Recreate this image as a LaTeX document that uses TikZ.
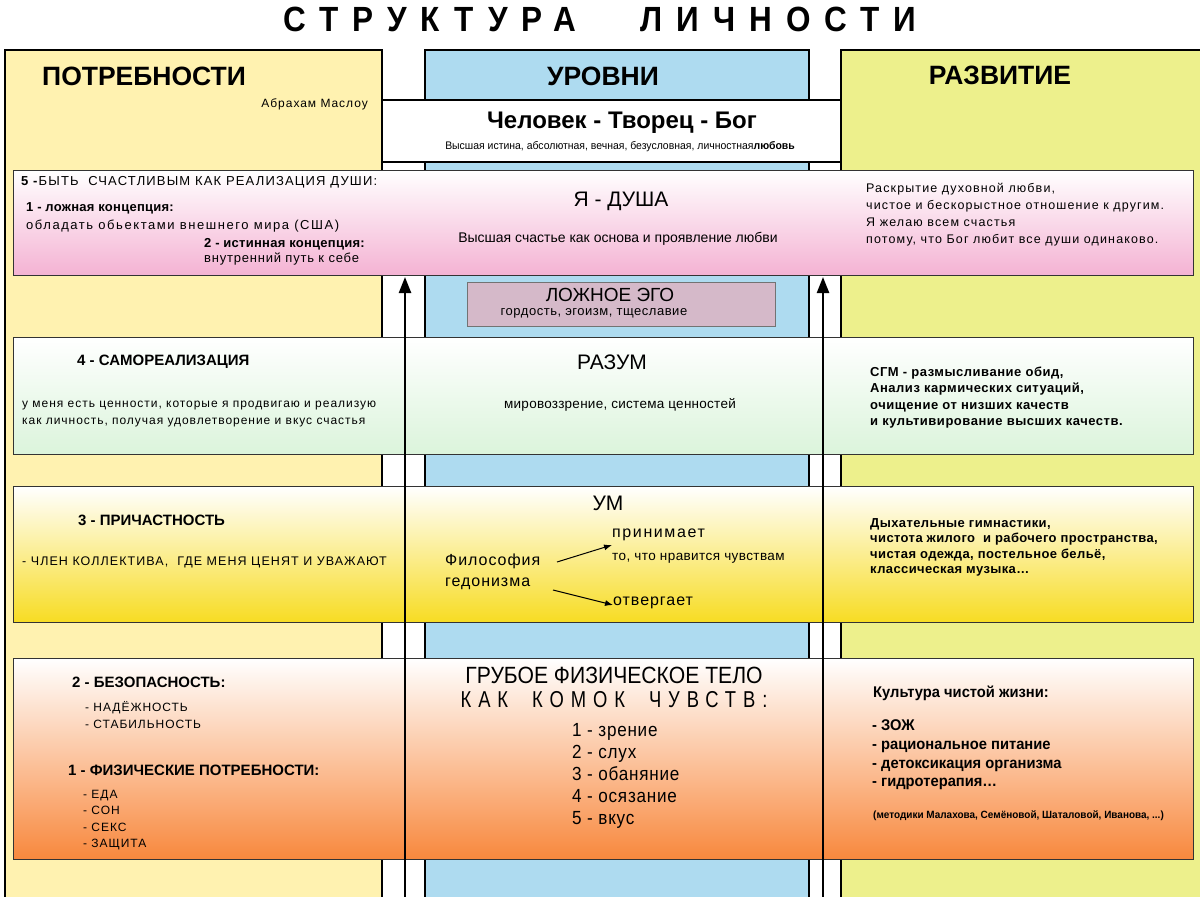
\documentclass[tikz,border=0pt]{standalone}
\usepackage{fontspec}
\setmainfont{Liberation Sans}
\newfontfamily\narrowfont[FakeStretch=0.9]{Liberation Sans}
\newfontfamily\narrowspaced[FakeStretch=0.8,LetterSpace=30]{Liberation Sans}
\newfontfamily\semifont[FakeStretch=0.95]{Liberation Sans}
\newfontfamily\titlefont[FakeStretch=0.9,LetterSpace=40]{Liberation Sans}
\usetikzlibrary{arrows.meta,positioning}
\definecolor{needyellow}{HTML}{FFF2B0}
\definecolor{levelblue}{HTML}{AEDBF0}
\definecolor{growgreen}{HTML}{EDF08C}
\definecolor{soulpink}{HTML}{F4B2D3}
\definecolor{mindgreen}{HTML}{DBF4DB}
\definecolor{senseyellow}{HTML}{F7DC22}
\definecolor{bodyorange}{HTML}{F8883D}
\definecolor{egomauve}{HTML}{D5B9C9}
\newcommand{\fsize}[2]{\fontsize{#1}{#2}\selectfont}
\newcommand{\spaced}[1]{\addfontfeature{LetterSpace=#1}}

\begin{document}
\begin{tikzpicture}[x=1pt,y=-1pt,
    column/.style={draw=black,line width=2.2pt,anchor=north west,inner sep=0pt},
    band/.style={draw=black!80,line width=1.1pt,anchor=north west,inner sep=0pt},
    head/.style={inner sep=0pt,font=\bfseries\fsize{26.5}{30}},
    txt/.style={anchor=west,inner sep=0pt,align=left,font=\spaced{8}\fsize{12}{17}},
    bold/.style={txt,font=\bfseries\fsize{15}{17}},
    level/.style={inner sep=0pt,font=\fsize{21}{24}},
    note/.style={inner sep=0pt,font=\spaced{2}\fsize{13.5}{16}},
    growtext/.style={txt,font=\bfseries\spaced{4}\fsize{13}{16.3}},
    uparrow/.style={line width=2.4pt,-{Triangle[length=16pt,width=12pt]}},
    hedarrow/.style={line width=1pt,-{Latex[length=8pt,width=6pt]}}]
  \useasboundingbox (0,0) rectangle (1200,897);
  \clip (0,0) rectangle (1200,897);
  \fill[white] (0,0) rectangle (1200,897);

  % three columns and the top box
  \node[column,fill=needyellow,minimum width=377,minimum height=880] (needs) at (4,49) {};
  \node[column,fill=levelblue,minimum width=384,minimum height=880] (levels) at (424,49) {};
  \node[column,fill=growgreen,minimum width=380,minimum height=880] (growth) at (840,49) {};
  \node[column,fill=white,minimum width=459,minimum height=62] (creator) at (381,99) {};

  % bands
  \node[band,top color=white,bottom color=soulpink,minimum width=1180,minimum height=105] (soul) at (13,170) {};
  \node[band,fill=egomauve,draw=black!55,line width=0.8pt,minimum width=308,minimum height=44] (ego) at (467,282) {};
  \foreach \row/\top/\high/\tint in {mind/337/117/mindgreen,sense/486/136/senseyellow,body/658/201/bodyorange}{
    \node[band,top color=white,bottom color=\tint,minimum width=392,minimum height=\high] (\row L) at (13,\top) {};
    \node[band,top color=white,bottom color=\tint,minimum width=418,minimum height=\high] (\row M) at (405,\top) {};
    \node[band,top color=white,bottom color=\tint,minimum width=370,minimum height=\high] (\row R) at (823,\top) {};
  }

  % rising arrows
  \coordinate (footL) at (405,905);
  \coordinate (tipL) at (405,277);
  \coordinate (footR) at (823,905);
  \coordinate (tipR) at (823,277);
  \draw[uparrow] (footL) -- (tipL);
  \draw[uparrow] (footR) -- (tipR);

  % headings
  \node[inner sep=0pt,font=\titlefont\bfseries\fsize{35}{38}] (title) at (600,19) {СТРУКТУРА\hspace{64pt}ЛИЧНОСТИ};
  \node[head,anchor=west] (needhead) at (42,76) {ПОТРЕБНОСТИ};
  \node[head] (levelhead) at (603,76) {УРОВНИ};
  \node[head] (growhead) at (1000,75) {РАЗВИТИЕ};
  \node[txt,anchor=east] (maslow) at (368,104) {Абрахам Маслоу};
  \node[inner sep=0pt,font=\bfseries\fsize{24}{26}] (god) at (622,123) {Человек - Творец - Бог};
  \node[inner sep=0pt,font=\semifont\fsize{11}{12}] (truth) at (620,147) {Высшая истина, абсолютная, вечная, безусловная, личностная\textbf{любовь}};

  % level 5
  \node[txt,font=\spaced{9}\fsize{13}{17}] (need5) at (21,182) {\textbf{5 -}БЫТЬ\ \ СЧАСТЛИВЫМ КАК РЕАЛИЗАЦИЯ ДУШИ:};
  \node[txt,font=\bfseries\spaced{2}\fsize{13}{17}] (falsehead) at (26,208) {1 - ложная концепция:};
  \node[txt,font=\spaced{12}\fsize{13}{17}] (falseidea) at (26,226) {обладать обьектами внешнего мира (США)};
  \node[txt,font=\bfseries\spaced{2}\fsize{13}{17}] (truehead) at (204,244) {2 - истинная концепция:};
  \node[txt,font=\spaced{6}\fsize{13}{17}] (trueidea) at (204,259) {внутренний путь к себе};
  \node[level] (soulname) at (621,201) {Я - ДУША};
  \node[note,font=\fsize{14}{16}] (soulnote) at (618,239) {Высшая счастье как основа и проявление любви};
  \node[txt,font=\spaced{9}\fsize{12.5}{17}] (soulgrow) at (866,215) {Раскрытие духовной любви,\\чистое и бескорыстное отношение к другим.\\Я желаю всем счастья\\потому, что Бог любит все души одинаково.};
  \node[inner sep=0pt,font=\fsize{19}{21}] (egoname) at (610,295) {ЛОЖНОЕ ЭГО};
  \node[note,font=\spaced{4}\fsize{13}{15}] (egonote) at (594,313) {гордость, эгоизм, тщеславие};

  % level 4
  \node[bold] (need4) at (77,362) {4 - САМОРЕАЛИЗАЦИЯ};
  \node[txt] (need4text) at (22,414) {у меня есть ценности, которые я продвигаю и реализую\\как личность, получая удовлетворение и вкус счастья};
  \node[level] (reason) at (612,362) {РАЗУМ};
  \node[note] (reasonnote) at (620,405) {мировоззрение, система ценностей};
  \node[growtext] (mindgrow) at (870,397.5) {СГМ - размысливание обид,\\Анализ кармических ситуаций,\\очищение от низших качеств\\и культивирование высших качеств.};

  % level 3
  \node[bold] (need3) at (78,520) {3 - ПРИЧАСТНОСТЬ};
  \node[txt,font=\spaced{8.5}\fsize{12.5}{17}] (need3text) at (22,562) {- ЧЛЕН КОЛЛЕКТИВА,\ \ ГДЕ МЕНЯ ЦЕНЯТ И УВАЖАЮТ};
  \node[level] (mindname) at (608,503) {УМ};
  \node[txt,font=\spaced{6}\fsize{16}{21}] (hedon) at (445,572) {Философия\\гедонизма};
  \node[txt,font=\spaced{10}\fsize{16}{20}] (accept) at (612,535) {принимает};
  \node[note,anchor=west,font=\spaced{3}\fsize{13.5}{16}] (acceptnote) at (612,558) {то, что нравится чувствам};
  \node[txt,font=\spaced{6}\fsize{16}{20}] (reject) at (613,603) {отвергает};
  \coordinate (hedonA) at (557,562);
  \coordinate (hedonB) at (553,590);
  \draw[hedarrow] (hedonA) -- (accept.west |- 0,545);
  \draw[hedarrow] (hedonB) -- (reject.west |- 0,605);
  \node[growtext,font=\bfseries\spaced{3}\fsize{13}{15.5}] (sensegrow) at (870,547.5) {Дыхательные гимнастики,\\чистота жилого\ \ и рабочего пространства,\\чистая одежда, постельное бельё,\\классическая музыка\ldots};

  % levels 2 and 1
  \node[bold] (need2) at (72,682) {2 - БЕЗОПАСНОСТЬ:};
  \node[txt] (need2text) at (85,715) {- НАДЁЖНОСТЬ\\- СТАБИЛЬНОСТЬ};
  \node[bold] (need1) at (68,770) {1 - ФИЗИЧЕСКИЕ ПОТРЕБНОСТИ:};
  \node[txt,font=\spaced{8}\fsize{12}{16.4}] (need1text) at (83,820) {- ЕДА\\- СОН\\- СЕКС\\- ЗАЩИТА};
  \node[inner sep=0pt,font=\narrowfont\fsize{23.5}{26}] (body) at (614,675) {ГРУБОЕ ФИЗИЧЕСКОЕ ТЕЛО};
  \node[inner sep=0pt,font=\narrowspaced\fsize{23}{26}] (senses) at (614,700) {КАК\ \ КОМОК\ \ ЧУВСТВ:};
  \node[txt,font=\narrowfont\spaced{4}\fsize{19}{21.8}] (senselist) at (572,776) {1 - зрение\\2 - слух\\3 - обаняние\\4 - осязание\\5 - вкус};
  \node[txt,font=\semifont\bfseries\fsize{15.5}{18}] (culture) at (873,693) {Культура чистой жизни:};
  \node[txt,font=\semifont\bfseries\fsize{15.5}{18.7}] (culturelist) at (872,755) {- ЗОЖ\\- рациональное питание\\- детоксикация организма\\- гидротерапия\ldots};
  \node[txt,font=\semifont\bfseries\fsize{10.5}{12}] (methods) at (873,816) {(методики Малахова, Семёновой, Шаталовой, Иванова, ...)};
\end{tikzpicture}
\end{document}
